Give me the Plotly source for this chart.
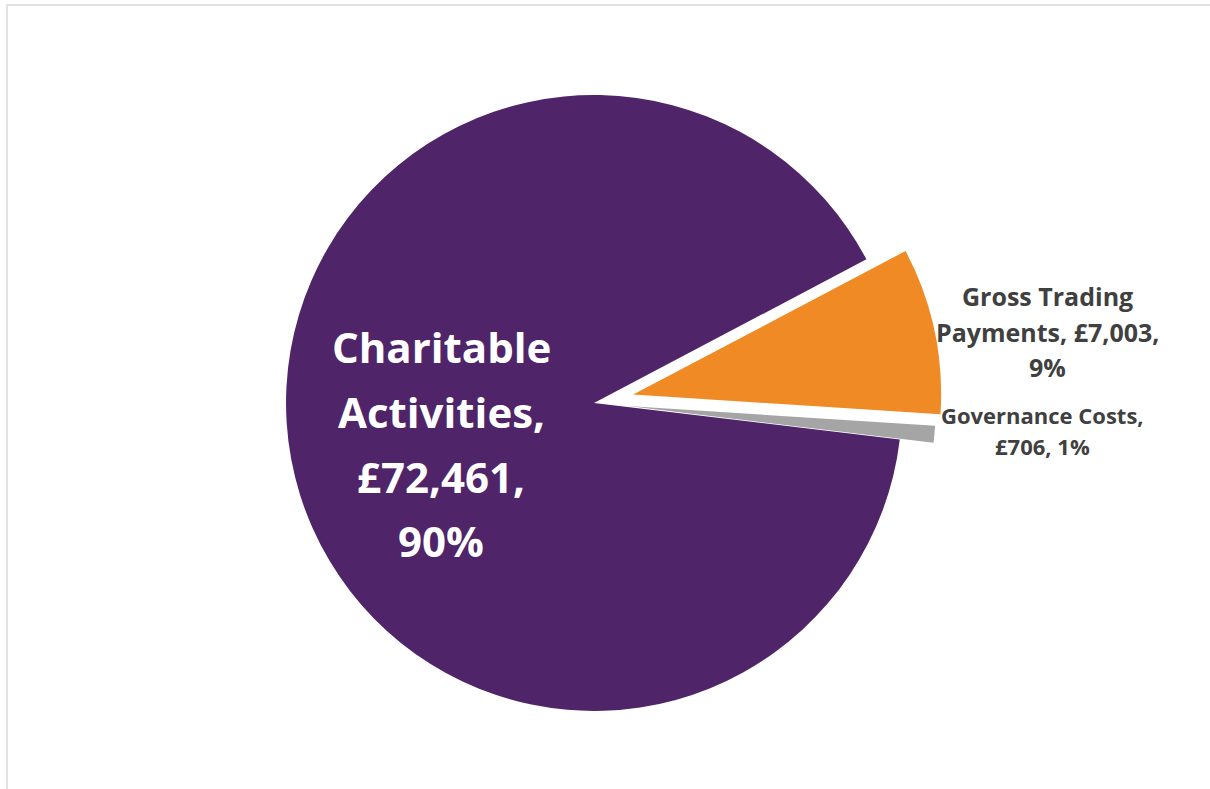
import plotly.graph_objects as go

# ---- data ----
categories = ["Gross Trading Payments", "Governance Costs", "Charitable Activities"]
values = [7003, 706, 72461]
percent_labels = ["9%", "1%", "90%"]
colors = ["#F08A24", "#A5A5A5", "#4F2469"]

def money(v):
    return "£{:,}".format(v)

# label line wrapping per category (text built from the data above)
label_lines = {
    "Gross Trading Payments": ["Gross Trading", f"Payments, {money(values[0])},", percent_labels[0]],
    "Governance Costs": ["Governance Costs,", f"{money(values[1])}, {percent_labels[1]}"],
    "Charitable Activities": ["Charitable", "Activities,", f"{money(values[2])},", percent_labels[2]],
}

W, H = 1210, 789
FONT = "Open Sans"

fig = go.Figure(go.Pie(
    labels=categories,
    values=values,
    sort=False,
    direction="clockwise",
    rotation=62.2,
    pull=[0.13, 0.11, 0],
    marker=dict(colors=colors, line=dict(width=0)),
    textinfo="none",
    hoverinfo="label+value+percent",
    showlegend=False,
    domain=dict(x=[246 / W, 942 / W], y=[1 - 751 / H, 1 - 55 / H]),
))

def px(x, y):
    return x / W, 1 - y / H

annotations = []
placements = {
    "Charitable Activities": dict(x=441, ys=[347, 411, 476, 540], size=42, color="#FFFFFF"),
    "Gross Trading Payments": dict(x=1047, ys=[296, 332, 367], size=25, color="#404040"),
    "Governance Costs": dict(x=1042, ys=[415, 446], size=22, color="#404040"),
}
for cat in categories:
    p = placements[cat]
    for line, yy in zip(label_lines[cat], p["ys"]):
        ax, ay = px(p["x"], yy)
        annotations.append(dict(
            x=ax, y=ay, xref="paper", yref="paper",
            text=f"<b>{line}</b>", showarrow=False,
            xanchor="center", yanchor="middle",
            font=dict(family=FONT, size=p["size"], color=p["color"]),
        ))

fig.update_layout(
    width=W, height=H,
    margin=dict(l=0, r=0, t=0, b=0),
    paper_bgcolor="white",
    plot_bgcolor="white",
    annotations=annotations,
    shapes=[dict(
        type="rect", xref="paper", yref="paper",
        x0=7 / W, x1=1.02, y0=-0.02, y1=1 - 5 / H,
        line=dict(color="#D9D9D9", width=1.5),
        fillcolor="rgba(0,0,0,0)", layer="below",
    )],
)

fig.write_html(
    "out.html",
    config={"displayModeBar": False},
    post_script="document.body.style.margin='0px';document.body.style.overflow='hidden';",
)
